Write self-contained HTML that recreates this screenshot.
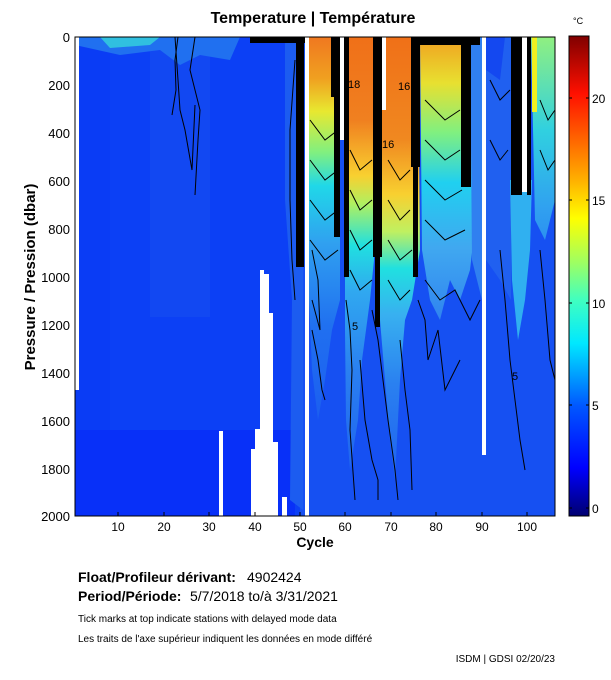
<!DOCTYPE html><html><head><style>body{margin:0;background:#fff;width:611px;height:675px;overflow:hidden;font-family:"Liberation Sans",sans-serif}</style></head><body>
<svg width="611" height="675" xmlns="http://www.w3.org/2000/svg" font-family="Liberation Sans, sans-serif">
<defs>
<linearGradient id="jet" x1="0" y1="1" x2="0" y2="0">
<stop offset="0" stop-color="#000070"/><stop offset="0.1" stop-color="#0000ff"/><stop offset="0.23" stop-color="#0058ff"/><stop offset="0.36" stop-color="#00e8ff"/><stop offset="0.45" stop-color="#40ffc0"/><stop offset="0.53" stop-color="#a0ff60"/><stop offset="0.62" stop-color="#ffff00"/><stop offset="0.7" stop-color="#ffb000"/><stop offset="0.79" stop-color="#ff6000"/><stop offset="0.88" stop-color="#ff1000"/><stop offset="1" stop-color="#800000"/></linearGradient>
<linearGradient id="gA" gradientUnits="userSpaceOnUse" x1="0" y1="37" x2="0" y2="450"><stop offset="0" stop-color="#f07820"/><stop offset="0.1" stop-color="#f0a020"/><stop offset="0.18" stop-color="#e8e830"/><stop offset="0.28" stop-color="#80f080"/><stop offset="0.36" stop-color="#20d8e8"/><stop offset="0.5" stop-color="#30a0f0"/><stop offset="0.7" stop-color="#2070f0"/><stop offset="1" stop-color="#1a58f0"/></linearGradient>
<linearGradient id="gB" gradientUnits="userSpaceOnUse" x1="0" y1="37" x2="0" y2="500"><stop offset="0" stop-color="#f07018"/><stop offset="0.18" stop-color="#f08020"/><stop offset="0.3" stop-color="#f8d030"/><stop offset="0.36" stop-color="#b0f060"/><stop offset="0.45" stop-color="#20e0e0"/><stop offset="0.55" stop-color="#30a8f0"/><stop offset="0.72" stop-color="#2a80f0"/><stop offset="1" stop-color="#1c5cf0"/></linearGradient>
<linearGradient id="gC" gradientUnits="userSpaceOnUse" x1="0" y1="37" x2="0" y2="500"><stop offset="0" stop-color="#f07018"/><stop offset="0.22" stop-color="#f08820"/><stop offset="0.34" stop-color="#f8d030"/><stop offset="0.42" stop-color="#c0f060"/><stop offset="0.5" stop-color="#20e0e0"/><stop offset="0.6" stop-color="#38b0f0"/><stop offset="0.75" stop-color="#2a80f0"/><stop offset="1" stop-color="#1c5cf0"/></linearGradient>
<linearGradient id="gD" gradientUnits="userSpaceOnUse" x1="0" y1="37" x2="0" y2="420"><stop offset="0" stop-color="#f0a020"/><stop offset="0.12" stop-color="#e8e030"/><stop offset="0.25" stop-color="#80f080"/><stop offset="0.38" stop-color="#20d0f0"/><stop offset="0.55" stop-color="#40a8f0"/><stop offset="0.8" stop-color="#2a78f0"/><stop offset="1" stop-color="#1c5cf0"/></linearGradient>
<linearGradient id="gF" gradientUnits="userSpaceOnUse" x1="0" y1="37" x2="0" y2="350"><stop offset="0" stop-color="#90f080"/><stop offset="0.3" stop-color="#30d0e0"/><stop offset="0.55" stop-color="#30a0f0"/><stop offset="1" stop-color="#1c5cf0"/></linearGradient>
</defs>
<text x="313" y="23" font-size="16" font-weight="bold" text-anchor="middle">Temperature | Température</text>
<text x="573" y="24" font-size="9">°C</text>
<rect x="75" y="37" width="480" height="479" fill="#0a3cf5"/>
<rect x="110" y="37" width="190" height="479" fill="#0c40f5"/>
<rect x="150" y="37" width="60" height="280" fill="#1248f2"/>
<rect x="75" y="430" width="220" height="86" fill="#0830f8"/>
<rect x="300" y="37" width="255" height="479" fill="#1650f2"/>
<path d="M75 37 L240 37 L230 60 L200 55 L180 65 L160 50 L120 55 L75 45Z" fill="#2070f0"/>
<path d="M100 37 L160 37 L150 45 L110 48Z" fill="#30c0e0"/>
<path d="M285 37 L303 37 L303 510 L290 500 L292 300 L285 200Z" fill="#1c5cf0"/>
<path d="M309 37 L340 37 L340 300 L332 330 L325 380 L318 420 L312 370 L309 300Z" fill="url(#gA)"/>
<path d="M345 37 L374 37 L374 260 L370 300 L362 360 L358 420 L350 470 L346 420 L345 330Z" fill="url(#gB)"/>
<path d="M380 37 L418 37 L420 250 L412 300 L405 320 L400 380 L395 480 L390 440 L385 380 L380 320Z" fill="url(#gC)"/>
<path d="M420 37 L470 37 L478 200 L470 270 L460 300 L450 280 L440 320 L430 300 L422 250Z" fill="url(#gD)"/>
<path d="M470 37 L482 37 L482 300 L472 260Z" fill="#3080f0"/>
<path d="M486 37 L511 37 L511 300 L500 280 L486 260Z" fill="#2060f0"/>
<path d="M486 37 L505 37 L500 80 L486 70Z" fill="#1448f0"/>
<path d="M510 180 L532 180 L530 250 L525 300 L518 340 L512 280Z" fill="#30b0f0"/>
<path d="M531 37 L555 37 L555 200 L545 240 L535 220Z" fill="url(#gF)"/>
<rect x="532" y="37" width="5" height="75" fill="#f0f020"/>
<rect x="519" y="37" width="4" height="60" fill="#f06018"/>
<g fill="#000">
<rect x="296" y="37" width="8" height="230"/>
<rect x="331" y="37" width="9" height="60"/><rect x="334" y="97" width="6" height="140"/>
<rect x="344" y="37" width="5" height="240"/>
<rect x="373" y="37" width="9" height="220"/><rect x="375" y="257" width="5" height="70"/>
<rect x="411" y="37" width="9" height="130"/><rect x="413" y="167" width="5" height="110"/>
<rect x="461" y="37" width="10" height="150"/>
<rect x="511" y="37" width="11" height="158"/><rect x="527" y="37" width="4" height="158"/>
<rect x="250" y="37" width="55" height="6"/><rect x="420" y="37" width="60" height="8"/>
</g>
<g fill="#fff">
<rect x="75" y="37" width="4" height="353"/>
<rect x="305" y="37" width="4" height="479"/><rect x="340" y="37" width="4" height="103"/>
<rect x="382" y="37" width="4" height="73"/><rect x="482" y="37" width="4" height="418"/>
<rect x="522" y="37" width="5" height="155"/>
<rect x="219" y="431" width="4" height="85"/><rect x="251" y="449" width="4" height="67"/>
<rect x="255" y="429" width="5" height="87"/><rect x="260" y="270" width="4" height="246"/>
<rect x="264" y="274" width="5" height="242"/><rect x="269" y="313" width="4" height="203"/>
<rect x="273" y="442" width="5" height="74"/><rect x="282" y="497" width="5" height="19"/>
</g>
<g fill="none" stroke="#000" stroke-width="1">
<path d="M175 37 L178 80 L180 110 L185 130 L192 170 L195 105"/>
<path d="M195 37 L190 70 L200 110 L198 140 L195 195"/>
<path d="M178 37 L175 60 L176 90 L172 115"/>
<path d="M295 60 L290 130 L290 200 L292 260 L295 300"/>
<path d="M312 330 L318 360 L322 390 L325 400"/>
<path d="M312 300 L320 330 L318 280 L312 250"/>
<path d="M346 300 L350 330 L352 370 L350 430 L355 500"/>
<path d="M360 360 L365 420 L372 460 L378 480 L378 500"/>
<path d="M372 310 L378 340 L388 420 L395 470 L398 500"/>
<path d="M400 340 L405 390 L410 430 L412 490"/>
<path d="M418 300 L425 320 L428 360 L438 330 L445 390 L450 380 L460 360"/>
<path d="M425 280 L440 300 L455 290 L470 320 L480 300"/>
<path d="M500 250 L505 300 L510 360 L515 400 L520 440 L525 470"/>
<path d="M540 250 L545 300 L550 360 L555 380"/>
<path d="M310 120 L325 140 L338 130"/><path d="M310 160 L325 180 L338 170"/><path d="M310 200 L325 220 L338 210"/><path d="M310 240 L325 260 L338 250"/>
<path d="M350 150 L360 170 L372 160"/><path d="M350 190 L360 210 L372 200"/><path d="M350 230 L360 250 L372 240"/><path d="M350 270 L360 290 L372 280"/>
<path d="M388 160 L400 180 L410 170"/><path d="M388 200 L400 220 L410 210"/><path d="M388 240 L400 260 L412 250"/><path d="M388 280 L400 300 L410 290"/>
<path d="M425 100 L445 120 L460 110"/><path d="M425 140 L445 160 L460 150"/><path d="M425 180 L445 200 L462 190"/><path d="M425 220 L445 240 L465 230"/>
<path d="M490 80 L500 100 L510 90"/><path d="M490 140 L500 160 L508 150"/>
<path d="M540 100 L548 120 L555 110"/><path d="M540 150 L548 170 L555 160"/>
</g>
<g font-size="11" fill="#000"><text x="348" y="88">18</text><text x="398" y="90">16</text><text x="382" y="148">16</text><text x="352" y="330">5</text><text x="512" y="380">5</text></g>
<rect x="75" y="37" width="480" height="479" fill="none" stroke="#000"/>
<g stroke="#000"><path d="M118 516v-4M164 516v-4M209 516v-4M255 516v-4M300 516v-4M345 516v-4M391 516v-4M436 516v-4M482 516v-4M527 516v-4"/></g>
<g font-size="13" text-anchor="end">
<text x="70" y="42">0</text><text x="70" y="90">200</text><text x="70" y="138">400</text><text x="70" y="186">600</text><text x="70" y="234">800</text><text x="70" y="282">1000</text><text x="70" y="330">1200</text><text x="70" y="378">1400</text><text x="70" y="426">1600</text><text x="70" y="474">1800</text><text x="70" y="521">2000</text>
</g>
<text transform="translate(35,277) rotate(-90)" font-size="15" font-weight="bold" text-anchor="middle">Pressure / Pression (dbar)</text>
<g font-size="12" text-anchor="middle">
<text x="118" y="531">10</text><text x="164" y="531">20</text><text x="209" y="531">30</text><text x="255" y="531">40</text><text x="300" y="531">50</text><text x="345" y="531">60</text><text x="391" y="531">70</text><text x="436" y="531">80</text><text x="482" y="531">90</text><text x="527" y="531">100</text>
</g>
<text x="315" y="547" font-size="14" font-weight="bold" text-anchor="middle">Cycle</text>
<rect x="569" y="36" width="20" height="480" fill="url(#jet)" stroke="#000"/>
<g stroke="#000"><path d="M569 98h3M586 98h3M569 200h3M586 200h3M569 303h3M586 303h3M569 405h3M586 405h3M569 508h3M586 508h3"/></g>
<g font-size="12"><text x="592" y="513">0</text><text x="592" y="410">5</text><text x="592" y="308">10</text><text x="592" y="205">15</text><text x="592" y="103">20</text></g>
<text x="78" y="582" font-size="14" font-weight="bold">Float/Profileur dérivant:</text><text x="247" y="582" font-size="14">4902424</text>
<text x="78" y="601" font-size="14" font-weight="bold">Period/Période:</text><text x="190" y="601" font-size="14">5/7/2018  to/à  3/31/2021</text>
<text x="78" y="622" font-size="10">Tick marks at top indicate stations with delayed mode data</text>
<text x="78" y="642" font-size="10">Les traits de l'axe supérieur indiquent les données en mode différé</text>
<text x="555" y="662" font-size="10" text-anchor="end">ISDM | GDSI  02/20/23</text>
</svg></body></html>
